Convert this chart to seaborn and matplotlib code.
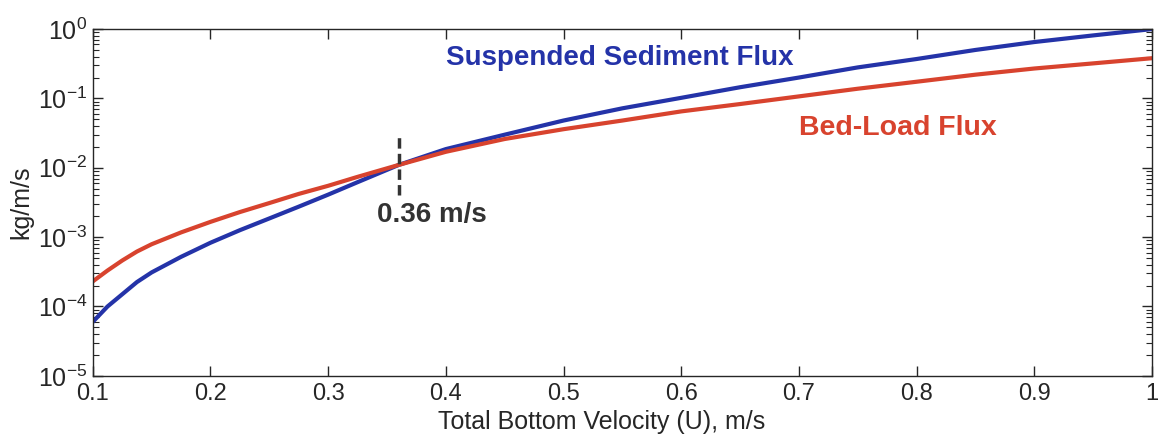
import matplotlib
matplotlib.use("Agg")
from matplotlib import pyplot as plt
from matplotlib.ticker import LogLocator, FixedLocator
import pandas as pd
import seaborn as sns

# Flux vs total bottom velocity
velocity = [0.100, 0.1125, 0.125, 0.1375, 0.150, 0.175, 0.200, 0.225, 0.250, 0.275, 0.300, 0.325,
            0.360, 0.400, 0.450, 0.500, 0.550, 0.600, 0.650, 0.700, 0.750, 0.800, 0.850, 0.900,
            0.950, 1.000]
suspended = [6.0e-5, 1.0e-4, 1.5e-4, 2.25e-4, 3.1e-4, 5.2e-4, 8.3e-4, 1.26e-3, 1.86e-3, 2.75e-3,
             4.1e-3, 6.2e-3, 1.1e-2, 1.86e-2, 3.0e-2, 4.8e-2, 7.2e-2, 1.02e-1, 1.45e-1, 2.0e-1,
             2.8e-1, 3.7e-1, 5.0e-1, 6.5e-1, 8.1e-1, 1.0]
bedload = [2.3e-4, 3.3e-4, 4.6e-4, 6.2e-4, 7.9e-4, 1.17e-3, 1.66e-3, 2.3e-3, 3.1e-3, 4.2e-3,
           5.5e-3, 7.4e-3, 1.1e-2, 1.7e-2, 2.6e-2, 3.6e-2, 4.8e-2, 6.5e-2, 8.3e-2, 1.07e-1,
           1.38e-1, 1.74e-1, 2.2e-1, 2.7e-1, 3.2e-1, 3.8e-1]
x_ticks = [0.1, 0.2, 0.3, 0.4, 0.5, 0.6, 0.7, 0.8, 0.9, 1.0]
x_labels = ["0.1", "0.2", "0.3", "0.4", "0.5", "0.6", "0.7", "0.8", "0.9", "1"]
crit_u = 0.36
crit_span = [4.1e-3, 3.2e-2]

df = pd.DataFrame({
    "U": velocity * 2,
    "flux": suspended + bedload,
    "kind": ["Suspended"] * len(velocity) + ["Bed-Load"] * len(velocity),
})

sns.set_style("ticks")
plt.rcParams["font.family"] = ["Liberation Sans", "DejaVu Sans"]
plt.rcParams["mathtext.fontset"] = "custom"
plt.rcParams["mathtext.rm"] = "Liberation Sans"

blue = "#2433a8"
red = "#d8432e"
dark = "#333333"

fig, ax = plt.subplots(figsize=(11.6, 4.34), dpi=100)
fig.subplots_adjust(left=0.080, right=0.993, bottom=0.134, top=0.933)

sns.lineplot(data=df, x="U", y="flux", hue="kind", palette={"Suspended": blue, "Bed-Load": red},
             linewidth=3.0, legend=False, ax=ax)
ax.plot([crit_u, crit_u], crit_span, color=dark, linestyle=(0, (3, 1.5)), linewidth=2.5)

ax.set_yscale("log")
ax.set_xlim(0.1, 1.0)
ax.set_ylim(1e-5, 1e0)
ax.xaxis.set_major_locator(FixedLocator(x_ticks))
ax.set_xticklabels(x_labels)
ax.yaxis.set_major_locator(LogLocator(base=10, numticks=10))
ax.yaxis.set_minor_locator(LogLocator(base=10, subs=range(2, 10), numticks=20))
ax.tick_params(axis="both", which="both", direction="in", top=True, right=True)
ax.tick_params(axis="x", which="major", labelsize=17, pad=5)
ax.tick_params(axis="y", which="major", labelsize=18, pad=4)
ax.tick_params(axis="both", which="major", length=7, width=1)
ax.tick_params(axis="y", which="minor", length=4, width=0.8)
for s in ax.spines.values():
    s.set_linewidth(1.0)

ax.set_xlabel("Total Bottom Velocity (U), m/s", fontsize=18)
ax.set_ylabel("kg/m/s", fontsize=18)
ax.xaxis.set_label_coords(0.48, -0.098)
ax.yaxis.set_label_coords(-0.056, 0.5)

ax.text(0.548, 0.38, "Suspended Sediment Flux", color=blue, fontsize=20, fontweight="bold",
        ha="center", va="center")
ax.text(0.70, 0.037, "Bed-Load Flux", color=red, fontsize=20.5, fontweight="bold",
        ha="left", va="center")
ax.text(0.388, 2.1e-3, "0.36 m/s", color=dark, fontsize=20, fontweight="bold",
        ha="center", va="center")

fig.savefig("out.png", dpi=100)
